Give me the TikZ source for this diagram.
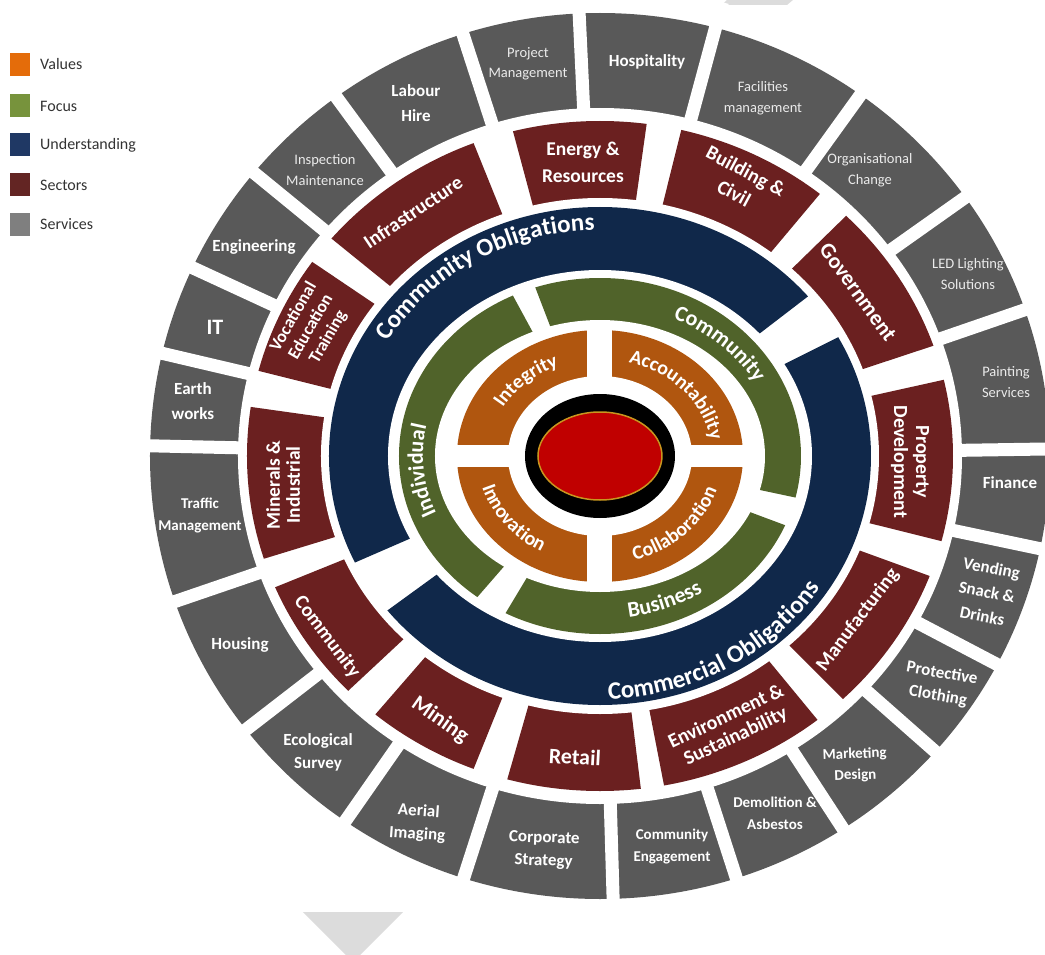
\documentclass[tikz,border=0pt]{standalone}
\usepackage{fontspec}
\setmainfont{Carlito}
\usetikzlibrary{decorations.text}

\definecolor{svcgray}{HTML}{595959}
\definecolor{secred}{HTML}{6B2020}
\definecolor{ringnavy}{HTML}{10284A}
\definecolor{focusgreen}{HTML}{50632A}
\definecolor{valorange}{HTML}{B0560F}
\definecolor{corered}{HTML}{C00000}
\definecolor{coregold}{HTML}{C8961E}
\definecolor{legorange}{HTML}{E46C0A}
\definecolor{leggreen}{HTML}{77933C}
\definecolor{legnavy}{HTML}{1F3864}
\definecolor{legred}{HTML}{632523}
\definecolor{leggray}{HTML}{7F7F7F}
\definecolor{pagemark}{HTML}{DCDCDC}

\newcommand{\setfs}[2]{\fontsize{#1}{#2}\selectfont}

\tikzset{
  svc/.style={text=white, align=center, inner sep=0pt, font=\bfseries\setfs{17}{23}},
  svclight/.style={text=white!92!black, align=center, inner sep=0pt, font=\setfs{14.5}{20.5}},
  sec/.style={text=white, align=center, inner sep=0pt, font=\bfseries\setfs{20}{22}},
  secbig/.style={sec, font=\bfseries\setfs{22}{24}},
  legbox/.style={minimum width=20pt, minimum height=23pt, inner sep=0pt},
  legtext/.style={anchor=west, inner sep=0pt, text=black!80, font=\setfs{16}{18}},
  arctext/.style={decorate, decoration={text along path, text align=center, text color=white, text={#1}}},
}

\begin{document}
\begin{tikzpicture}[x=1pt, y=1pt]
\useasboundingbox (-600,-498) rectangle (445,456);
\clip (-600,-498) rectangle (445,456);

% faint page marks
\fill[pagemark] (-297,-456) -- (-197,-456) -- (-247,-506) -- cycle;
\fill[pagemark] (122,451) -- (187,451) -- (193,456) -- (127,456) -- cycle;

% ---- services ring ----
\fill[svcgray] (0,0) ellipse[x radius=450, y radius=443];
\foreach \a in {92.7,74.9,54.2,35.3,19,0.9,-11.9,-27.7,-41.4,-56.9,-72.1,-88.3,-107.9,-124.9,-142.3,-161.1,178.7,166.8,155.2,140.7,126.3,108}
  \draw[white, line width=13] (0,0) -- (\a:470);
\fill[white] (0,0) ellipse[x radius=362, y radius=348];

% ---- sectors ring ----
\begin{scope}
  \clip (0,0) ellipse[x radius=353, y radius=335];
  \foreach \a/\b in {82/105, 112/141, 146/166, 172/197, 202/223, 229/248, 254/277, 281/309.5, 315/340, 346/372.5, 18.3/44.3, 50/76}
    \fill[secred] (0,0) -- (\a:500) -- ({(\a+\b)/2}:520) -- (\b:500) -- cycle;
\end{scope}
\fill[white] (0,0) ellipse[x radius=279, y radius=258];

% ---- understanding ring ----
\begin{scope}
  \clip (0,0) ellipse[x radius=271, y radius=249];
  \fill[ringnavy] (0,0) -- (37.5:400) -- (80:400) -- (120:400) -- (160:400) -- (203.5:400) -- cycle;
  \fill[ringnavy] (0,0) -- (216:400) -- (259:400) -- (302:400) -- (345:400) -- (386.5:400) -- cycle;
\end{scope}
\fill[white] (0,0) ellipse[x radius=212, y radius=186];

% ---- focus ring ----
\begin{scope}
  \clip (0,0) ellipse[x radius=201, y radius=178];
  \fill[focusgreen] (0,0) -- (-12:300) -- (30:300) -- (70:300) -- (111:300) -- cycle;
  \fill[focusgreen] (0,0) -- (118.5:300) -- (155:300) -- (192:300) -- (229:300) -- cycle;
  \fill[focusgreen] (0,0) -- (239:300) -- (273:300) -- (306:300) -- (339.5:300) -- cycle;
\end{scope}
\fill[white] (0,0) ellipse[x radius=165, y radius=136];

% ---- values ring ----
\fill[valorange] (0,0) ellipse[x radius=143, y radius=126];
\fill[white] (-150,-11) rectangle (150,11);
\fill[white] (-12.5,-132) rectangle (12.5,132);
\fill[white] (0,0) ellipse[x radius=92, y radius=80];

% ---- core ----
\fill[black] (0,0) ellipse[x radius=75, y radius=62];
\filldraw[fill=corered, draw=coregold, line width=1.5] (0,0) ellipse[x radius=62, y radius=44];

% ---- curved ring labels ----
\path[arctext={|\bfseries\setfs{25}{25}|Community Obligations}]
  (166:246 and 226) arc[start angle=166, end angle=76, x radius=246, y radius=226];
\path[arctext={|\bfseries\setfs{25}{25}|Commercial Obligations}]
  (255:262 and 243) arc[start angle=255, end angle=345, x radius=262, y radius=243];
\path[arctext={|\bfseries\setfs{22}{22}|Community}]
  (95:177 and 151) arc[start angle=95, end angle=-5, x radius=177, y radius=151];
\path[arctext={|\bfseries\setfs{22}{22}|Individual}]
  (230:177 and 151) arc[start angle=230, end angle=140, x radius=177, y radius=151];
\path[arctext={|\bfseries\setfs{22}{22}|Business}]
  (250:189 and 163) arc[start angle=250, end angle=334, x radius=189, y radius=163];
\path[arctext={|\bfseries\setfs{20}{20}|Integrity}]
  (170:112 and 97) arc[start angle=170, end angle=94, x radius=112, y radius=97];
\path[arctext={|\bfseries\setfs{20}{20}|Accountability}]
  (86:112 and 97) arc[start angle=86, end angle=-3, x radius=112, y radius=97];
\path[arctext={|\bfseries\setfs{20}{20}|Innovation}]
  (175:123 and 109) arc[start angle=175, end angle=261, x radius=123, y radius=109];
\path[arctext={|\bfseries\setfs{20}{20}|Collaboration}]
  (272:123 and 109) arc[start angle=272, end angle=358, x radius=123, y radius=109];

% ---- sector labels ----
\node[sec, font=\bfseries\setfs{19.5}{27}] (sec-energy) at (-17,294) {Energy \&\\Resources};
\node[sec, rotate=-28, font=\bfseries\setfs{20}{25}] (sec-building) at (140,274) {Building \&\\Civil};
\node[secbig, rotate=-54] (sec-gov) at (258,164) {Government};
\node[sec, rotate=-90] (sec-property) at (310,-6) {Property\\Development};
\node[sec, rotate=53] (sec-manufacturing) at (258,-164) {Manufacturing};
\node[sec, rotate=25.5] (sec-environment) at (131,-271) {Environment \&\\Sustainability};
\node[secbig, rotate=-3] (sec-retail) at (-25,-301) {Retail};
\node[secbig, rotate=-35] (sec-mining) at (-160,-264) {Mining};
\node[sec, rotate=-53] (sec-community) at (-273,-181) {Community};
\node[sec, rotate=90, font=\bfseries\setfs{19.5}{20}] (sec-minerals) at (-317,-29) {Minerals \&\\Industrial};
\node[sec, rotate=60, font=\bfseries\setfs{17.5}{20}] (sec-vocational) at (-289,129) {Vocational\\Education\\Training};
\node[sec, rotate=34] (sec-infrastructure) at (-187,244) {Infrastructure};

% ---- service labels ----
\node[svclight] (svc-project) at (-72,392) {Project\\Management};
\node[svc] (svc-hospitality) at (47,394) {Hospitality};
\node[svclight] (svc-facilities) at (163,358) {Facilities\\management};
\node[svclight] (svc-change) at (270,286) {Organisational\\Change};
\node[svclight] (svc-led) at (368,182) {LED Lighting\\Solutions};
\node[svclight] (svc-painting) at (406,74) {Painting\\Services};
\node[svc] (svc-finance) at (410,-27) {Finance};
\node[svc, rotate=-11, font=\bfseries\setfs{17}{24.5}] (svc-vending) at (387,-136) {Vending\\Snack \&\\Drinks};
\node[svc, rotate=-10] (svc-protective) at (340,-229) {Protective\\Clothing};
\node[svc, rotate=2, font=\bfseries\setfs{15}{21}] (svc-marketing) at (255,-309) {Marketing\\Design};
\node[svc, font=\bfseries\setfs{15}{22}] (svc-demolition) at (175,-357) {Demolition \&\\Asbestos};
\node[svc, font=\bfseries\setfs{15}{22}] (svc-engagement) at (72,-391) {Community\\Engagement};
\node[svc, rotate=-2] (svc-strategy) at (-56,-394) {Corporate\\Strategy};
\node[svc, rotate=-4] (svc-aerial) at (-182,-367) {Aerial\\Imaging};
\node[svc] (svc-ecological) at (-282,-296) {Ecological\\Survey};
\node[svc] (svc-housing) at (-360,-189) {Housing};
\node[svc, font=\bfseries\setfs{15}{22}] (svc-traffic) at (-400,-59) {Traffic\\Management};
\node[svc, font=\bfseries\setfs{17}{25}] (svc-earth) at (-407,55) {Earth\\works};
\node[svc, font=\bfseries\setfs{22}{22}] (svc-it) at (-385,129) {IT};
\node[svc] (svc-engineering) at (-346,209) {Engineering};
\node[svclight] (svc-inspection) at (-275,286) {Inspection\\Maintenance};
\node[svc, font=\bfseries\setfs{17}{25}] (svc-labour) at (-184,353) {Labour\\Hire};

% ---- legend ----
\foreach \c/\t/\y/\n in {legorange/Values/391.5/val, leggreen/Focus/350/foc, legnavy/Understanding/311/und, legred/Sectors/271/sec, leggray/Services/231.5/svc} {
  \node[legbox, fill=\c] (leg-\n) at (-580,\y) {};
  \node[legtext] (legtext-\n) at (-560,\y) {\t};
}
\end{tikzpicture}
\end{document}
